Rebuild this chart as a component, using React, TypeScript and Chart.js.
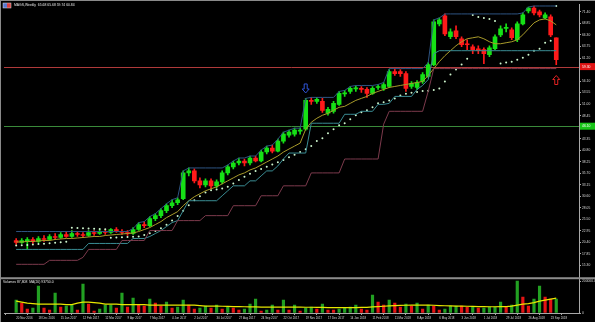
import React, { useEffect, useRef } from 'react';
import { Chart, registerables } from 'chart.js';

Chart.register(...registerables);

const symbolName = 'MAGS,Weekly';

const xTickIndex = [0, 4, 8, 12, 16, 20, 24, 28, 32, 36, 40, 44, 48, 52, 56, 60, 64, 68, 72, 76, 80, 84, 88, 92, 96];
const xTickLabels = ['20 Nov 2016', '18 Dec 2016', '15 Jan 2017', '12 Feb 2017', '12 Mar 2017', '9 Apr 2017', '7 May 2017', '4 Jun 2017', '2 Jul 2017', '30 Jul 2017', '27 Aug 2017', '24 Sep 2017', '22 Oct 2017', '19 Nov 2017', '17 Dec 2017', '14 Jan 2018', '11 Feb 2018', '11 Mar 2018', '8 Apr 2018', '6 May 2018', '3 Jun 2018', '1 Jul 2018', '29 Jul 2018', '26 Aug 2018', '23 Sep 2018'];

const priceTicks = [71.40, 68.85, 66.30, 63.75, 61.20, 56.10, 53.55, 51.00, 48.45, 43.35, 40.80, 38.25, 35.70, 33.15, 30.60, 28.05, 25.50, 22.95, 20.40, 17.85, 15.30];
const volumeTicks = [0, 200000];

const opens = [20.80, 20.36, 20.58, 21.02, 20.58, 21.24, 21.02, 21.68, 21.46, 22.12,
  21.68, 22.34, 22.12, 21.90, 22.56, 22.34, 22.78, 22.56, 23.22, 22.78,
  22.56, 22.34, 23.22, 24.32, 24.10, 25.64, 26.30, 27.40, 28.50, 29.16,
  30.04, 35.76, 36.20, 34.00, 33.12, 34.00, 32.90, 33.78, 35.76, 37.08,
  37.96, 38.40, 37.96, 39.06, 38.40, 40.38, 41.26, 40.60, 42.80, 44.12,
  44.34, 45.00, 45.44, 51.82, 51.60, 51.60, 48.96, 49.40, 50.94, 53.25,
  53.80, 54.35, 54.46, 54.24, 53.36, 54.68, 54.46, 54.90, 58.20, 58.20,
  57.76, 54.90, 54.68, 56.00, 57.10, 59.74, 68.76, 70.52, 65.90, 67.22,
  65.46, 64.36, 63.70, 63.26, 63.04, 61.94, 63.26, 66.34, 67.77, 67.44,
  65.24, 68.76, 71.62, 72.28, 71.40, 70.08, 70.30, 65.68];
const highs = [21.24, 21.24, 21.46, 21.46, 21.68, 21.90, 22.12, 22.34, 22.56, 22.78,
  23.00, 22.78, 22.56, 23.00, 23.00, 23.22, 23.22, 23.44, 23.66, 23.22,
  23.00, 23.66, 24.76, 24.98, 26.08, 26.74, 27.84, 28.94, 29.82, 30.26,
  36.20, 36.86, 36.64, 34.66, 34.44, 34.44, 34.22, 36.20, 37.52, 38.40,
  39.06, 38.84, 39.50, 39.50, 40.82, 41.70, 41.92, 43.24, 44.78, 45.22,
  45.66, 45.66, 52.26, 52.48, 52.48, 52.26, 50.28, 51.60, 53.80, 54.02,
  54.90, 55.12, 54.90, 54.68, 54.90, 55.34, 55.78, 58.64, 58.86, 58.64,
  58.20, 56.00, 56.22, 57.98, 60.18, 69.64, 70.08, 70.96, 67.66, 68.32,
  65.90, 65.24, 64.14, 63.92, 63.48, 63.92, 66.34, 68.32, 68.76, 67.88,
  69.20, 71.18, 72.50, 72.72, 71.84, 71.18, 70.74, 65.68];
const lows = [19.92, 20.14, 18.82, 20.14, 20.36, 20.58, 20.80, 21.02, 21.24, 21.46,
  21.46, 21.68, 21.46, 21.68, 21.90, 22.12, 22.12, 22.34, 22.56, 22.12,
  21.90, 22.12, 23.00, 23.66, 23.88, 25.20, 25.86, 26.96, 28.06, 28.72,
  29.82, 35.10, 33.56, 32.46, 32.68, 32.24, 32.46, 33.34, 35.32, 36.64,
  37.52, 37.30, 37.52, 38.18, 38.18, 39.94, 40.16, 40.38, 42.36, 43.68,
  43.90, 44.34, 45.22, 50.94, 51.16, 49.18, 48.52, 48.96, 50.72, 52.70,
  53.36, 53.80, 53.58, 52.48, 53.14, 54.24, 54.02, 54.68, 57.32, 57.10,
  53.80, 54.46, 54.24, 55.56, 56.88, 59.52, 68.32, 66.12, 65.46, 65.46,
  63.70, 63.04, 62.16, 62.16, 59.96, 61.50, 63.04, 65.90, 67.00, 65.24,
  64.80, 68.54, 71.18, 70.74, 70.30, 69.86, 65.90, 59.74];
const closes = [20.36, 20.80, 21.02, 20.58, 21.24, 21.02, 21.68, 21.46, 22.12, 21.68,
  22.34, 22.12, 21.90, 22.56, 22.34, 22.78, 22.56, 23.22, 22.78, 22.56,
  22.34, 23.22, 24.32, 24.10, 25.64, 26.30, 27.40, 28.50, 29.16, 29.82,
  35.76, 36.20, 34.00, 33.12, 34.00, 32.90, 33.78, 35.76, 37.08, 37.96,
  38.40, 37.96, 39.06, 38.40, 40.38, 41.26, 40.60, 42.80, 44.34, 44.78,
  45.22, 45.22, 51.82, 51.60, 52.04, 49.62, 49.84, 51.16, 53.36, 53.47,
  54.46, 54.57, 54.24, 53.36, 54.46, 54.90, 55.34, 58.20, 57.76, 57.76,
  54.46, 55.56, 55.78, 57.54, 59.74, 69.20, 69.64, 66.56, 67.00, 65.90,
  64.14, 64.14, 63.04, 62.82, 62.16, 63.48, 65.90, 67.66, 67.99, 65.68,
  68.76, 70.74, 72.28, 71.18, 70.74, 70.74, 66.34, 60.84];

const upperChannel = [22.78, 22.78, 22.78, 22.78, 22.78, 22.78, 22.78, 22.78, 22.78, 22.78,
  22.78, 22.78, 22.78, 22.78, 22.78, 22.78, 22.78, 22.78, 22.78, 22.78,
  22.78, 23.44, 24.76, 24.98, 26.08, 26.74, 27.84, 28.94, 29.82, 30.26,
  36.20, 36.86, 36.86, 36.86, 36.86, 36.86, 36.86, 36.86, 37.52, 38.40,
  39.06, 39.06, 39.50, 39.50, 40.82, 41.70, 41.92, 43.24, 44.78, 45.22,
  45.66, 45.66, 52.26, 52.48, 52.48, 52.48, 52.48, 52.48, 53.80, 54.02,
  54.90, 55.12, 55.12, 55.12, 55.12, 55.34, 55.78, 58.86, 58.86, 58.86,
  58.86, 58.86, 58.86, 58.86, 60.18, 69.64, 70.08, 70.96, 70.96, 70.96,
  70.96, 70.96, 70.96, 70.96, 70.96, 70.96, 70.96, 70.96, 70.96, 70.96,
  70.96, 71.18, 72.50, 72.72, 72.72, 72.72, 72.72, 72.72];
const tealStop = [18.82, 18.82, 18.82, 18.82, 18.82, 18.82, 18.82, 18.82, 18.82, 18.82,
  18.82, 18.82, 18.82, 20.14, 20.14, 20.14, 20.14, 20.14, 20.14, 20.14,
  20.14, 21.24, 21.24, 21.24, 21.68, 22.34, 23.00, 23.88, 24.76, 25.20,
  27.40, 29.60, 29.60, 29.60, 29.60, 29.60, 29.60, 30.70, 31.80, 32.90,
  32.90, 32.90, 34.00, 34.00, 35.10, 36.20, 36.20, 37.30, 38.84, 40.16,
  40.16, 40.16, 40.16, 46.76, 46.76, 46.76, 46.76, 46.76, 46.76, 48.74,
  48.74, 48.74, 49.40, 49.40, 49.40, 50.94, 50.94, 51.16, 52.70, 52.70,
  52.70, 52.70, 54.24, 55.12, 56.44, 62.16, 62.82, 62.82, 62.82, 62.82,
  62.82, 62.82, 62.82, 62.82, 62.82, 62.82, 62.82, 62.82, 62.82, 62.82,
  62.82, 62.82, 62.82, 62.82, 62.82, 62.82, 62.82, 62.82];
const maroonStop = [15.52, 15.52, 15.52, 15.52, 15.52, 15.52, 16.40, 16.40, 16.40, 16.40,
  16.40, 16.40, 17.06, 18.82, 18.82, 18.82, 18.82, 18.82, 18.82, 20.80,
  20.80, 20.80, 20.80, 20.80, 23.00, 23.00, 23.00, 23.00, 23.00, 25.20,
  25.20, 25.20, 25.20, 25.20, 26.30, 26.30, 26.30, 26.30, 26.30, 28.50,
  28.50, 28.50, 28.50, 28.50, 30.70, 30.70, 30.70, 30.70, 32.90, 32.90,
  32.90, 32.90, 32.90, 35.76, 35.76, 35.76, 35.76, 35.76, 35.76, 38.84,
  38.84, 38.84, 38.84, 38.84, 38.84, 38.84, 46.54, 49.40, 49.40, 49.40,
  49.40, 49.40, 49.40, 49.40, 53.80, 58.86, 58.86, 58.86, 58.86, 58.86,
  58.86, 58.86, 58.86, 58.86, 58.86, 58.86, 58.86, 58.86, 58.86, 58.86,
  58.86, 58.86, 58.86, 58.86, 58.86, 58.86, 58.86, 58.86];
const movingAvg = [20.47, 20.47, 20.58, 20.58, 20.69, 20.80, 20.80, 21.02, 21.13, 21.24,
  21.24, 21.35, 21.46, 21.57, 21.68, 21.68, 21.90, 22.01, 22.12, 22.23,
  22.34, 22.45, 22.78, 23.22, 23.66, 24.32, 24.98, 25.86, 26.52, 27.18,
  28.50, 29.60, 30.48, 31.14, 31.80, 32.24, 32.68, 33.34, 34.00, 34.66,
  35.32, 35.76, 36.42, 36.86, 37.52, 38.18, 38.84, 39.50, 40.38, 41.04,
  41.70, 42.36, 45.44, 46.98, 47.86, 48.52, 48.96, 49.62, 50.28, 50.50,
  51.16, 51.82, 52.26, 52.70, 53.36, 53.80, 54.24, 54.68, 54.90, 55.12,
  55.34, 55.56, 55.78, 56.00, 57.32, 58.86, 60.40, 61.72, 62.82, 63.92,
  64.80, 65.46, 65.68, 65.90, 65.46, 64.80, 64.36, 64.36, 64.58, 64.80,
  65.24, 66.34, 67.66, 68.98, 69.64, 69.86, 69.42, 68.54];
const parabolicSar = [19.70, 19.75, 19.80, 19.90, 20.00, 20.10, 20.20, 20.30, 20.40, 20.50,
  23.60, 23.55, 23.50, 23.45, 23.40, 23.35, 23.30, 21.40, 21.45, 21.50,
  21.55, 21.60, 21.70, 22.00, 22.40, 22.90, 23.50, 24.30, 25.20, 26.20,
  27.40, 28.60, 29.70, 30.60, 31.40, 31.90, 32.10, 32.30, 32.70, 33.40,
  34.20, 34.90, 35.60, 36.20, 36.60, 37.10, 37.60, 38.10, 38.60, 39.20,
  39.80, 40.40, 41.00, 41.70, 42.80, 43.46, 44.56, 45.44, 46.32, 46.76,
  47.64, 48.52, 49.18, 49.62, 50.28, 51.16, 51.40, 51.82, 52.26, 52.92,
  53.30, 53.50, 53.70, 53.90, 53.95, 54.10, 54.46, 56.00, 57.54, 58.64,
  59.74, 61.06, 70.74, 70.30, 70.08, 69.86, 69.42, 59.96, 60.18, 60.40,
  60.84, 61.28, 61.94, 62.82, 63.26, 64.58, 65.02, 72.72];

const volumes = [81320, 62410, 25180, 31640, 168900, 30870, 18420, 125300, 37260, 43950,
  50120, 18760, 181400, 56380, 12650, 24970, 49810, 50430, 31260, 124800,
  37640, 93820, 50260, 43710, 87540, 62380, 43910, 68740, 31420, 37580,
  81260, 49870, 25310, 31180, 43820, 31540, 50070, 24880, 37690, 31270,
  18930, 25120, 56240, 87650, 12480, 18710, 50180, 18640, 81390, 18820,
  49960, 12570, 31320, 37480, 25060, 56190, 18870, 18690, 25240, 31380,
  37710, 50260, 24930, 18580, 112640, 68720, 49940, 81410, 62530, 37450,
  56320, 43680, 62470, 25130, 50210, 43860, 18770, 25090, 43740, 43980,
  43610, 37520, 37840, 31290, 31460, 37390, 37710, 68840, 37460, 49920,
  200680, 100240, 43780, 87610, 168740, 100120, 87480, 87808];
const volumeMA = [75000, 68800, 62500, 59400, 56300, 56300, 56300, 56300, 56300, 53100,
  53100, 62500, 68800, 68800, 65600, 62500, 56300, 56300, 56300, 53100,
  53100, 53100, 53100, 53100, 50000, 50000, 50000, 50000, 50000, 50000,
  50000, 50000, 50000, 46900, 43800, 43800, 43800, 42500, 41300, 40600,
  40600, 39400, 38800, 38800, 37500, 37500, 37500, 37500, 37500, 37500,
  37500, 37500, 36300, 36300, 35000, 35000, 34400, 34400, 34400, 34400,
  33800, 34400, 35000, 35000, 38800, 40600, 42500, 45000, 46900, 47500,
  48800, 50000, 50000, 50000, 50000, 48800, 46900, 45600, 45000, 43800,
  43800, 42500, 41300, 40600, 40000, 39400, 39400, 40000, 40000, 43800,
  50000, 56300, 59400, 65600, 75000, 81300, 87500, 93750];

const redLevel = 59.30;
const greenLevel = 46.10;
const downArrows = [{ index: 52, price: 54.46 }];
const upArrows = [{ index: 97, price: 56.33 }];

const BULL = '#16e016';
const BEAR = '#ff1a1a';
const FONT = '"Liberation Sans", Arial, sans-serif';

function drawArrow(ctx: CanvasRenderingContext2D, cx: number, cy: number, dir: string, color: string) {
  const hw = 3.5, sw = 1.5, h = 9, head = 4;
  const top = cy - h / 2, bot = cy + h / 2;
  ctx.beginPath();
  if (dir === 'down') {
    ctx.moveTo(cx - sw, top); ctx.lineTo(cx + sw, top); ctx.lineTo(cx + sw, bot - head);
    ctx.lineTo(cx + hw, bot - head); ctx.lineTo(cx, bot); ctx.lineTo(cx - hw, bot - head);
    ctx.lineTo(cx - sw, bot - head);
  } else {
    ctx.moveTo(cx - sw, bot); ctx.lineTo(cx + sw, bot); ctx.lineTo(cx + sw, top + head);
    ctx.lineTo(cx + hw, top + head); ctx.lineTo(cx, top); ctx.lineTo(cx - hw, top + head);
    ctx.lineTo(cx - sw, top + head);
  }
  ctx.closePath();
  ctx.strokeStyle = color;
  ctx.lineWidth = 1;
  ctx.stroke();
}

const mtPlugin = {
  id: 'mtPlugin',
  beforeDraw(chart: any) {
    const { ctx, width, height } = chart;
    ctx.save();
    ctx.fillStyle = '#000000';
    ctx.fillRect(0, 0, width, height);
    ctx.restore();
  },
  beforeDatasetsDraw(chart: any) {
    const { ctx, chartArea } = chart;
    const y = chart.scales.y;
    ctx.save();
    ctx.lineWidth = 1;
    ctx.strokeStyle = '#b03a3a';
    const yr = Math.round(y.getPixelForValue(redLevel)) + 0.5;
    ctx.beginPath(); ctx.moveTo(chartArea.left, yr); ctx.lineTo(chartArea.right, yr); ctx.stroke();
    ctx.strokeStyle = '#3a8a3a';
    const yg = Math.round(y.getPixelForValue(greenLevel)) + 0.5;
    ctx.beginPath(); ctx.moveTo(chartArea.left, yg); ctx.lineTo(chartArea.right, yg); ctx.stroke();
    ctx.restore();
  },
  afterDatasetsDraw(chart: any) {
    const { ctx } = chart;
    const x = chart.scales.x;
    const y = chart.scales.y;
    ctx.save();
    downArrows.forEach((a) => drawArrow(ctx, x.getPixelForValue(a.index), y.getPixelForValue(a.price), 'down', '#2f55d8'));
    upArrows.forEach((a) => drawArrow(ctx, x.getPixelForValue(a.index), y.getPixelForValue(a.price), 'up', '#e02222'));
    ctx.restore();
  },
  afterDraw(chart: any) {
    const { ctx, width } = chart;
    const y = chart.scales.y;
    const yv = chart.scales.yv;
    ctx.save();
    // window frame
    ctx.fillStyle = '#8a8a8a';
    ctx.fillRect(0, 0, width, 1);
    ctx.fillRect(0, 0, 1, chart.height);
    // panel separator
    ctx.fillStyle = '#8c8c8c';
    ctx.fillRect(0, y.bottom - 1, width, 2);
    // title icon
    ctx.fillStyle = '#5a78d0';
    ctx.fillRect(3, 3, 4, 5);
    ctx.fillStyle = '#d84040';
    ctx.fillRect(7, 3, 4, 5);
    ctx.strokeStyle = '#dddddd';
    ctx.lineWidth = 0.5;
    ctx.strokeRect(3, 3, 8, 5);
    // title
    const last = opens.length - 1;
    ctx.fillStyle = '#e6e6e6';
    ctx.font = `3.4px ${FONT}`;
    ctx.textBaseline = 'middle';
    ctx.textAlign = 'left';
    ctx.fillText(`${symbolName}  ${opens[last].toFixed(2)} ${highs[last].toFixed(2)} ${lows[last].toFixed(2)} ${closes[last].toFixed(2)}`, 14, 5.5);
    // volume title
    const lv = volumes[volumes.length - 1].toLocaleString('en-US');
    ctx.fillText(`Volumes ${lv}  MA(20) ${volumeMA[volumeMA.length - 1].toFixed(1)}`, 3, yv.top + 4);
    // level labels on price axis
    const boxes = [
      { v: redLevel, bg: '#e01414', fg: '#ffffff' },
      { v: greenLevel, bg: '#18c418', fg: '#ffffff' },
    ];
    boxes.forEach((b) => {
      const py = y.getPixelForValue(b.v);
      ctx.fillStyle = b.bg;
      ctx.fillRect(y.left + 1, py - 3.5, width - y.left - 1, 7);
      ctx.fillStyle = b.fg;
      ctx.font = `3.4px ${FONT}`;
      ctx.fillText(b.v.toFixed(2), y.left + 3, py);
    });
    ctx.restore();
  },
};

export default function App() {
  const ref = useRef<HTMLCanvasElement | null>(null);
  useEffect(() => {
    document.body.style.margin = '0';
    document.body.style.background = '#000';
    const canvas = ref.current;
    if (!canvas) return;
    const idx = opens.map((_, i) => i);
    const candleColor = (c: any) => {
      const i = c.dataIndex;
      return closes[i] >= opens[i] ? BULL : BEAR;
    };
    const volColor = (c: any) => {
      const i = c.dataIndex;
      return i === 0 || volumes[i] > volumes[i - 1] ? '#22a022' : '#e41414';
    };
    const lineDs = (label: string, values: number[], color: string, width: number) => ({
      type: 'line' as const,
      label,
      data: idx.map((i) => ({ x: i, y: values[i] })),
      borderColor: color,
      borderWidth: width,
      pointRadius: 0,
      tension: 0,
      yAxisID: 'y',
      order: 0,
    });
    const chart = new Chart(canvas, {
      type: 'bar',
      data: {
        datasets: [
          {
            type: 'bar',
            label: 'wick',
            data: idx.map((i) => ({ x: i, y: [lows[i], highs[i]] })) as any,
            backgroundColor: candleColor,
            barThickness: 1,
            grouped: false,
            minBarLength: 1,
            yAxisID: 'y',
            order: 3,
          },
          {
            type: 'bar',
            label: 'body',
            data: idx.map((i) => ({ x: i, y: [opens[i], closes[i]] })) as any,
            backgroundColor: candleColor,
            barThickness: 4,
            grouped: false,
            minBarLength: 1,
            yAxisID: 'y',
            order: 2,
          },
          lineDs('maroon', maroonStop, '#7c3a4c', 1),
          lineDs('teal', tealStop, '#3a8d94', 1),
          lineDs('upper', upperChannel, '#2e5482', 1),
          lineDs('ma', movingAvg, '#a99b2a', 1),
          {
            type: 'line',
            label: 'sar',
            data: idx.map((i) => ({ x: i, y: parabolicSar[i] })),
            showLine: false,
            pointRadius: 1,
            pointBorderWidth: 0,
            pointBackgroundColor: '#cdf5cd',
            yAxisID: 'y',
            order: 0,
          },
          {
            type: 'bar',
            label: 'volume',
            data: idx.map((i) => ({ x: i, y: volumes[i] })) as any,
            backgroundColor: volColor,
            barThickness: 2.5,
            grouped: false,
            yAxisID: 'yv',
            order: 2,
          },
          {
            type: 'line',
            label: 'volMA',
            data: idx.map((i) => ({ x: i, y: volumeMA[i] })),
            borderColor: '#e8e800',
            borderWidth: 1.2,
            pointRadius: 0,
            tension: 0,
            yAxisID: 'yv',
            order: 0,
          },
        ] as any,
      },
      options: {
        animation: false,
        responsive: false,
        maintainAspectRatio: false,
        devicePixelRatio: 1,
        events: [],
        layout: { padding: { left: 1, top: 2, right: 0, bottom: 0 } },
        plugins: { legend: { display: false }, tooltip: { enabled: false }, title: { display: false } },
        scales: {
          x: {
            type: 'linear',
            position: 'bottom',
            min: -0.12,
            max: 99.02,
            grid: { display: true, drawOnChartArea: false, drawTicks: true, tickLength: 2, color: '#a8a8a8' },
            border: { display: true, color: '#a8a8a8', width: 1 },
            ticks: {
              autoSkip: false,
              maxRotation: 0,
              minRotation: 0,
              align: 'start',
              padding: 1,
              color: '#d8d8d8',
              font: { family: FONT, size: 2.9 },
              callback: (v: any) => xTickLabels[xTickIndex.indexOf(Math.round(Number(v)))] ?? '',
            },
            afterBuildTicks: (s: any) => { s.ticks = xTickIndex.map((v) => ({ value: v })); },
            afterFit: (s: any) => { s.height = 9; s.paddingLeft = 0; s.paddingRight = 0; },
          },
          y: {
            type: 'linear',
            position: 'right',
            stack: 'panels',
            stackWeight: 276,
            min: 12.44,
            max: 73.16,
            grid: { display: true, drawOnChartArea: false, drawTicks: true, tickLength: 2, color: '#a8a8a8' },
            border: { display: true, color: '#a8a8a8', width: 1 },
            ticks: {
              autoSkip: false,
              padding: 1,
              color: '#d8d8d8',
              font: { family: FONT, size: 3.3 },
              callback: (v: any) => Number(v).toFixed(2),
            },
            afterBuildTicks: (s: any) => { s.ticks = priceTicks.map((v) => ({ value: v })); },
            afterFit: (s: any) => { s.width = 16; s.paddingTop = 0; s.paddingBottom = 0; },
          },
          yv: {
            type: 'linear',
            position: 'right',
            stack: 'panels',
            stackWeight: 35,
            min: 0,
            max: 218750,
            grid: { display: true, drawOnChartArea: false, drawTicks: true, tickLength: 2, color: '#a8a8a8' },
            border: { display: true, color: '#a8a8a8', width: 1 },
            ticks: {
              autoSkip: false,
              padding: 1,
              color: '#d8d8d8',
              font: { family: FONT, size: 3.3 },
              callback: (v: any) => (Number(v) === 0 ? '0' : Number(v).toFixed(1)),
            },
            afterBuildTicks: (s: any) => { s.ticks = volumeTicks.map((v) => ({ value: v })); },
            afterFit: (s: any) => { s.width = 16; s.paddingTop = 0; s.paddingBottom = 0; },
          },
        },
      } as any,
      plugins: [mtPlugin],
    });
    return () => chart.destroy();
  }, []);
  return <canvas ref={ref} width={595} height={322} style={{ display: 'block', width: 595, height: 322 }} />;
}
